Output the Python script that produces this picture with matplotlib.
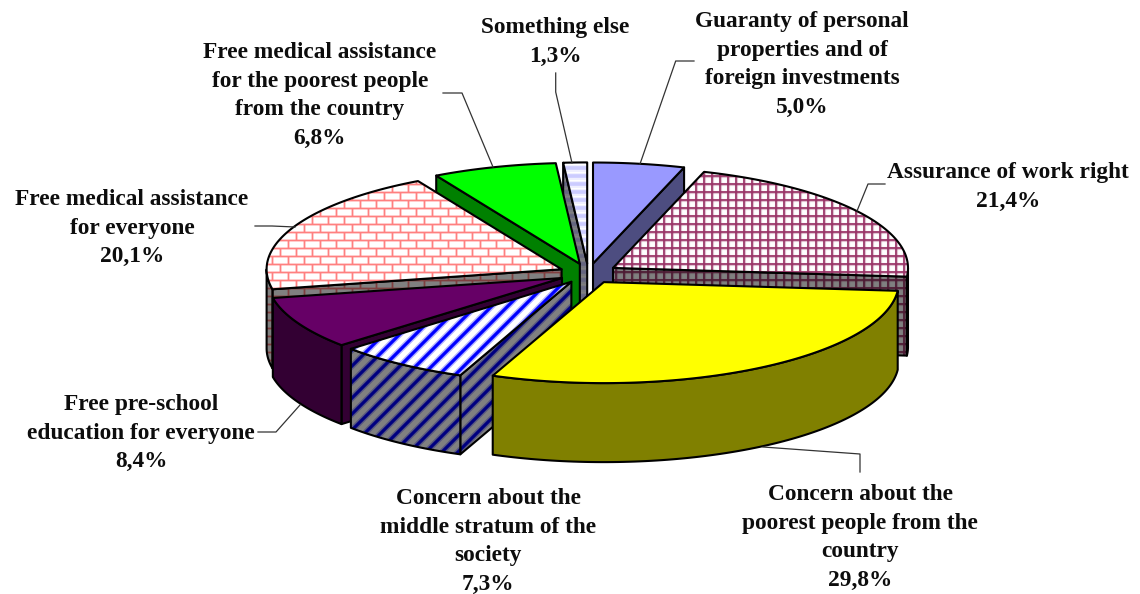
import numpy as np
import matplotlib
matplotlib.use("Agg")
import matplotlib.pyplot as plt
from matplotlib.patches import Polygon
from matplotlib.collections import LineCollection

categories = ["Guaranty of personal\nproperties and of\nforeign investments",
              "Assurance of work right",
              "Concern about the\npoorest people from the\ncountry",
              "Concern about the\nmiddle stratum of the\nsociety",
              "Free pre-school\neducation for everyone",
              "Free medical assistance\nfor everyone",
              "Free medical assistance\nfor the poorest people\nfrom the country",
              "Something else"]
values = [5.0, 21.4, 29.8, 7.3, 8.4, 20.1, 6.8, 1.3]
value_labels = ["5,0%", "21,4%", "29,8%", "7,3%", "8,4%", "20,1%", "6,8%", "1,3%"]

W, H = 1140, 594
CX, CY, A, B, DEPTH, EXPLODE = 588.4, 273.5, 295.0, 101.0, 79.0, 0.10
LINE = "#000000"
PITCH = 28.6

top_colors = ["#9999ff", "#ffffff", "#ffff00", "#ffffff", "#660066", "#ffffff", "#00ff00", "#ffffff"]
wall_colors = ["#4d4d80", "#808080", "#808000", "#808080", "#330033", "#808080", "#008000", "#808080"]
top_patterns = [None, ("grid", "#993366"), None, ("diag", "#0000ff"), None, ("brick", "#ff8080"), None, ("hstripe", "#ccccff")]
wall_patterns = [None, ("grid", "#4d1a33"), None, ("diag", "#000080"), None, ("brick", "#804040"), None, ("hstripe", "#666680")]
draw_order = [7, 6, 5, 0, 1, 4, 3, 2]

# x centre and baseline of the first line of each label
label_pos = [(802, 27), (1008, 178), (860, 500), (488, 504), (141, 410), (132, 205), (320, 58), (555, 33)]
leaders = [[(640, 164), (675.7, 61), (694, 61)],
           [(857, 211), (868, 184), (885, 184)],
           [(763, 447), (860, 454), (860, 472)],
           None,
           [(300, 405), (276, 432), (258, 432)],
           [(295, 227), (272, 226), (255, 226)],
           [(493, 167), (462, 93), (443, 93)],
           [(572, 163), (555.7, 92), (555.7, 73)]]

fig = plt.figure(figsize=(W / 100, H / 100), dpi=100, facecolor="white")
ax = fig.add_axes([0, 0, 1, 1])
ax.set_xlim(0, W)
ax.set_ylim(H, 0)
ax.axis("off")


def pattern_segments(kind):
    segs = []
    if kind == "grid":
        segs += [[(x, 0), (x, H)] for x in np.arange(0, W, 8)]
        segs += [[(0, y), (W, y)] for y in np.arange(0, H, 8)]
        return segs, 1.2
    if kind == "diag":
        segs += [[(x, H), (x + H, 0)] for x in np.arange(-H - (H % 16), W, 16)]
        return segs, 2.3
    if kind == "hstripe":
        segs += [[(0, y), (W, y)] for y in np.arange(0, H, 8)]
        return segs, 2.6
    if kind == "brick":
        for i, y in enumerate(np.arange(0, H, 8)):
            segs.append([(0, y), (W, y)])
            for x in np.arange(0 + (i % 2) * 8, W, 16):
                segs.append([(x, y), (x, y + 8)])
        return segs, 1.0
    return [], 1


def shape(points, color, pattern, z):
    p = Polygon(points, closed=True, facecolor=color, edgecolor="none", zorder=z)
    ax.add_patch(p)
    if pattern:
        segs, lw = pattern_segments(pattern[0])
        soft = LineCollection(segs, colors=pattern[1], linewidths=lw * 1.9, alpha=0.3, zorder=z + 0.05)
        ax.add_collection(soft)
        soft.set_clip_path(p)
        lc = LineCollection(segs, colors=pattern[1], linewidths=lw, zorder=z + 0.1)
        ax.add_collection(lc)
        lc.set_clip_path(p)
    o = Polygon(points, closed=True, facecolor="none", edgecolor=LINE, linewidth=1.5,
                joinstyle="round", zorder=z + 0.2)
    ax.add_patch(o)


total = sum(values)
edges = np.concatenate([[0], np.cumsum(values)]) / total * 360.0
z = 1.0
for i in draw_order:
    t0, t1 = edges[i], edges[i + 1]
    mid = np.radians((t0 + t1) / 2)
    ax_x = CX + EXPLODE * A * np.sin(mid)
    ax_y = CY - EXPLODE * B * np.cos(mid)
    apex = (ax_x, ax_y)
    th = np.radians(np.linspace(t0, t1, 100))
    rim = np.column_stack([ax_x + A * np.sin(th), ax_y - B * np.cos(th)])

    def ext(pts):
        return [(x, y + DEPTH) for x, y in pts]

    # start cut face
    if np.cos(np.radians(t0 - 90)) < 0:
        f = [apex, tuple(rim[0])]
        shape(f + ext(f)[::-1], wall_colors[i], wall_patterns[i], z)
        z += 1
    # end cut face
    if np.cos(np.radians(t1 + 90)) < 0:
        f = [apex, tuple(rim[-1])]
        shape(f + ext(f)[::-1], wall_colors[i], wall_patterns[i], z)
        z += 1
    # outer wall: only the part facing the viewer
    a0, a1 = max(t0, 90), min(t1, 270)
    if a1 > a0:
        th2 = np.radians(np.linspace(a0, a1, 100))
        arc = list(zip(ax_x + A * np.sin(th2), ax_y - B * np.cos(th2)))
        shape(arc + ext(arc)[::-1], wall_colors[i], wall_patterns[i], z)
        z += 1
    shape([apex] + [tuple(p) for p in rim], top_colors[i], top_patterns[i], z)
    z += 1

for i, (cat, lab) in enumerate(zip(categories, value_labels)):
    x, y = label_pos[i]
    for k, line in enumerate((cat + "\n" + lab).split("\n")):
        ax.text(x, y + k * PITCH, line, ha="center", va="baseline",
                family="Liberation Serif", weight="bold", fontsize=16.8,
                color="#0d0d0d", zorder=200)
    if leaders[i]:
        xs, ys = zip(*leaders[i])
        ax.plot(xs, ys, color="#333333", lw=0.9, zorder=150)

fig.savefig("out.png", dpi=100, facecolor="white")
